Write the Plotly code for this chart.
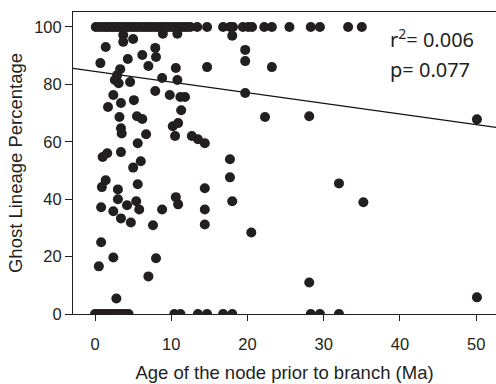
import plotly.graph_objects as go

# Points at 100 %
top_x = [0.1, 0.5, 0.9, 1.3, 1.6, 2.0, 2.3, 2.7, 3.0, 3.3, 3.7, 4.0, 4.4, 4.8, 5.1, 5.5,
         5.9, 6.3, 6.7, 7.0, 7.4, 7.8, 8.2, 8.6, 9.0, 9.3, 9.7, 10.1, 10.5, 10.9, 11.3,
         11.7, 12.1, 12.5, 13.4, 14.7, 16.8, 17.7, 18.1, 19.4, 20.1, 20.6, 22.2, 23.2,
         25.5, 28.3, 29.5, 33.2, 35.0]
top_y = [100] * len(top_x)

# Points at 0 %
bot_x = [0.0, 0.4, 0.8, 1.2, 1.6, 2.0, 2.4, 2.8, 3.2, 3.6, 4.0, 4.4, 10.4, 11.2, 13.5,
         14.7, 16.8, 18.0, 28.3, 29.5, 32.0]
bot_y = [0] * len(bot_x)

# Intermediate points
mid_x = [3.7, 3.7, 5.0, 8.9, 10.8, 18.0,
         1.4, 4.3, 0.7, 6.2, 7.9, 8.0, 7.0, 10.6, 14.7, 3.3, 2.9, 2.6, 3.1, 4.6, 8.8,
         10.8, 2.4, 7.9, 9.8, 11.2, 11.8,
         19.7, 19.7, 23.2, 19.7,
         1.7, 3.4, 5.1, 11.3, 3.2, 5.5, 6.2, 3.4, 3.5, 6.7, 10.2, 10.9, 10.5, 12.7, 13.5,
         14.4, 5.6,
         22.3, 28.1, 50.1,
         1.6, 1.0, 3.4, 6.0, 5.0, 17.7,
         1.4, 0.9, 3.0, 5.6, 3.0, 5.4, 0.8, 2.4, 4.2, 5.8, 8.8, 10.6, 10.9, 3.4, 4.7, 7.6,
         14.4, 14.4, 14.4, 0.8,
         17.7, 18.0, 20.5, 8.0, 7.0, 2.4, 0.5, 2.8,
         32.0, 35.2, 28.1, 50.1]
mid_y = [97.2, 94.8, 95.8, 97.6, 97.6, 96.9,
         93.0, 88.8, 87.4, 90.2, 92.7, 89.5, 86.4, 85.7, 86.0, 85.3, 83.2, 81.5, 80.4, 80.8, 82.2,
         81.5, 76.3, 77.7, 76.3, 75.6, 75.6,
         92.0, 88.1, 86.0, 77.0,
         72.1, 73.5, 74.5, 71.0, 68.6, 68.9, 67.9, 64.7, 62.9, 62.6, 65.4, 66.5, 62.0, 62.0, 60.9,
         59.5, 59.5,
         68.6, 68.9, 67.8,
         56.0, 54.7, 56.4, 53.2, 51.0, 53.9,
         46.6, 44.2, 43.4, 45.2, 40.0, 39.3, 37.2, 35.8, 37.9, 36.4, 36.4, 40.7, 38.2, 33.3, 31.9, 30.9,
         43.8, 36.4, 31.2, 25.0,
         47.6, 39.3, 28.4, 19.4, 13.1, 19.7, 16.6, 5.4,
         45.5, 38.9, 11.0, 5.8]

xs = top_x + mid_x + bot_x
ys = top_y + mid_y + bot_y

# Regression line
intercept = 84.5
slope = -0.37
line_x = [-3, 53]
line_y = [intercept + slope * v for v in line_x]

x_ticks = [0, 10, 20, 30, 40, 50]
y_ticks = [0, 20, 40, 60, 80, 100]

fig = go.Figure()
fig.add_trace(go.Scatter(x=line_x, y=line_y, mode="lines",
                         line=dict(color="#111111", width=1.2), showlegend=False))
fig.add_trace(go.Scatter(x=xs, y=ys, mode="markers",
                         marker=dict(size=10, color="#231f20"), showlegend=False))

tick_font = dict(family="Liberation Sans, Arial, sans-serif", size=16.5, color="#231f20")
title_font = dict(family="Liberation Sans, Arial, sans-serif", size=18.5, color="#231f20")
fig.update_layout(
    width=496, height=384,
    margin=dict(l=73, r=0, t=12, b=70),
    paper_bgcolor="white", plot_bgcolor="white",
    font=tick_font,
    xaxis=dict(range=[-2.89, 52.6], tickvals=x_ticks, ticks="outside", ticklen=6,
               tickcolor="#231f20", showline=True, linecolor="#231f20", linewidth=1,
               mirror=True, showgrid=False, zeroline=False, tickfont=tick_font,
               ticklabelstandoff=9,
               title=dict(text="Age of the node prior to branch (Ma)", standoff=14,
                          font=title_font)),
    yaxis=dict(range=[0, 105.2], tickvals=y_ticks, ticks="outside", ticklen=7,
               tickcolor="#231f20", showline=True, linecolor="#231f20", linewidth=1,
               showgrid=False, zeroline=False, tickfont=tick_font,
               title=dict(text="Ghost Lineage Percentage", standoff=6, font=title_font)),
)
ann_font = dict(family="Noto Sans, sans-serif", size=20, color="#231f20")
fig.add_annotation(xref="paper", yref="paper", x=0.745, y=0.912, xanchor="left",
                   yanchor="middle", text="r<sup>2</sup>= 0.006", showarrow=False, font=ann_font)
fig.add_annotation(xref="paper", yref="paper", x=0.745, y=0.81, xanchor="left",
                   yanchor="middle", text="p= 0.077", showarrow=False, font=ann_font)

fig.write_html("out.html")
